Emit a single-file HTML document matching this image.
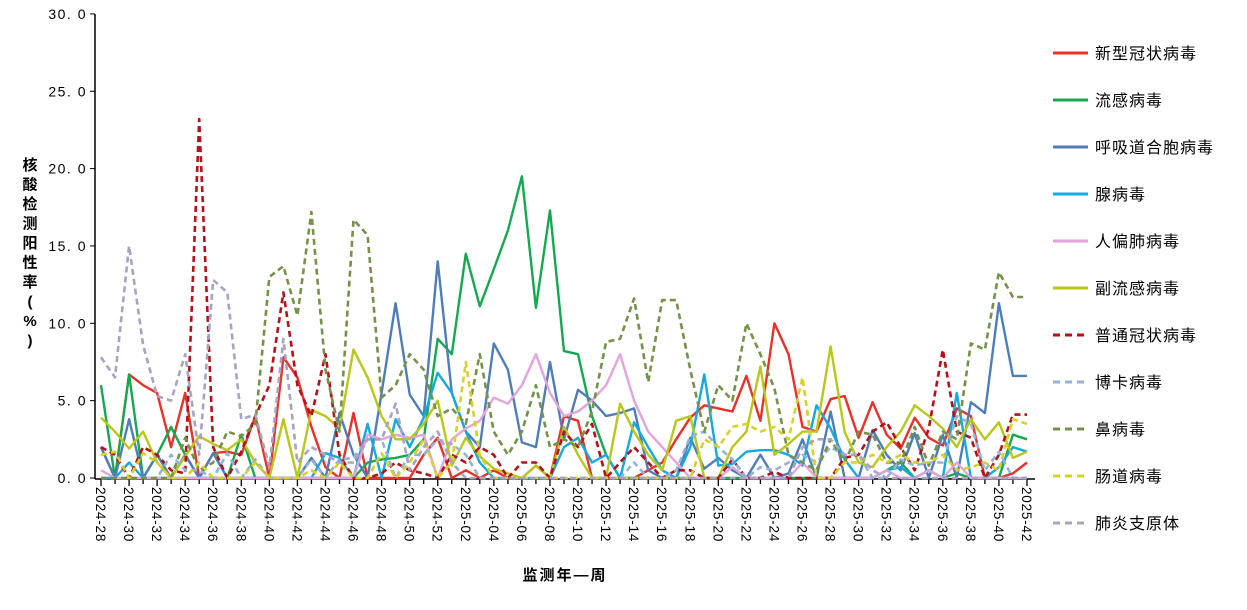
<!DOCTYPE html>
<html><head><meta charset="utf-8"><style>
body{margin:0;background:#fff;}
svg text{font-family:"Liberation Sans","Noto Sans CJK SC",sans-serif;}
</style></head><body>
<svg id="s" width="1247" height="605" xmlns="http://www.w3.org/2000/svg"></svg>
<script>
const s=document.getElementById('s');
let h='';
const X0=101,DX=14.03,Y0=478,K=15.47;
const x=i=>X0+DX*i, y=v=>Y0-v*K;
h+=`<line x1="95" y1="14" x2="95" y2="479" stroke="#000" stroke-width="1.5"/>`;
h+=`<line x1="95" y1="479" x2="1035" y2="479" stroke="#000" stroke-width="1.5"/>`;
for(let k=0;k<=6;k++){const yy=y(k*5);
 h+=`<line x1="90" y1="${yy}" x2="95" y2="${yy}" stroke="#000"/>`;
 h+=`<text x="87" y="${yy+5}" text-anchor="end" font-size="14" letter-spacing="1.5">${(k*5).toFixed(1).replace('.','. ')}</text>`;}
for(let i=0;i<67;i++){h+=`<line x1="${x(i)}" y1="479" x2="${x(i)}" y2="${i%2?484:486}" stroke="#000" stroke-width="1.3"/>`;}
const labs=[];for(let w=28;w<=52;w+=2)labs.push('2024-'+w);for(let w=2;w<=42;w+=2)labs.push('2025-'+String(w).padStart(2,'0'));
labs.forEach((l,j)=>{const xx=x(j*2)-5;h+=`<text transform="translate(${xx},487) rotate(90)" font-size="13.5" letter-spacing="0.8">${l}</text>`;});
h+=`<text x="565" y="580" text-anchor="middle" font-size="15" font-weight="bold" letter-spacing="2">监测年—周</text>`;
const yt="核酸检测阳性率(%)".split('');
yt.forEach((c,j)=>{h+=`<text x="30" y="${170+j*19.5}" text-anchor="middle" font-size="15" font-weight="bold">${c}</text>`;});
function S(a){return a.slice(0,67).map((v,i)=>x(i).toFixed(1)+','+y(v).toFixed(1)).join(' ');}
const series=[
['新型冠状病毒','#e8312a','',[2,0,6.7,6,5.5,2,5.5,0,1.6,1.7,1.5,4,0,7.8,6.5,3.3,0.7,0,4.2,0,0,0,0,1.5,2.6,0,0.5,0,0.5,0,0,0.8,0,4,3.7,0,0,0,0,0.5,1,2.5,3.9,4.7,4.5,4.3,6.6,3.7,10,8,3.3,3,5.1,5.3,2.6,4.9,2.8,1.9,3.9,2.6,2.1,4.5,4,0,0,0.3,1]],
['流感病毒','#16a84f','',[6,0,6.7,0,1.5,3.3,1.5,0,0,0,2.8,0,0,0,0,0,0,0,0,1,1.2,1.3,1.5,2.5,9,8,14.5,11.1,13.5,16,19.5,11,17.3,8.2,8,4,1.5,0,0,0,0,0,0,0,0,0,0,0,0,0,0,0,0,0,0,0,0.5,1,0,0.5,0,0.3,0,0,0,2.8,2.5]],
['呼吸道合胞病毒','#4f7db8','',[2,0,3.8,0,1.5,0,1.5,0,1.6,0,0,0,0,0,0,1.3,0,4.2,1.5,0,5.5,11.3,5.4,4,14,5.5,3,2,8.7,7,2.3,2,7.5,2.5,5.7,5,4,4.2,4.5,0.5,0,0,2.6,0.6,1.3,0.5,0,1.5,0,0.3,2.5,0,4.3,0,0,3.1,1.5,0.5,2.9,0,2.8,0,4.9,4.2,11.3,6.6,6.6]],
['腺病毒','#17a8dd','',[0,0,1,0,0,0,0,0,0,0,0,0,0,0,0,0,1.6,1.3,0,3.5,0,3.8,2,3.9,6.8,5.5,3,1,0,0,0,0,0,2,2.6,1,1.5,0,3.6,2,0.5,0,2,6.7,0.8,0.9,1.7,1.8,1.8,1.5,0.8,4.7,3.2,1.2,0,0,0.5,0.7,0,0.5,0,5.5,0,0,0.7,2,1.7]],
['人偏肺病毒','#e3a3dc','',[0.5,0,0,0,0,0,0,0,0,0,0,0,0,0,0,0,0,0,0,2.8,2.5,2.8,2.6,2.8,0,2.5,3.2,3.7,5.2,4.8,6,8,5.5,4,4.3,5,6,8,5,3,2,1,0,0,0,0.7,0,0,0,0,1,0,0,0,0,0,0.5,0,0,0.5,0,1,0,0,0,0,0]],
['副流感病毒','#b9c71a','',[3.9,3,1.9,3,1,0,1.4,2.7,2.2,1.8,2.5,1,0,3.8,0,4.4,4,3.2,8.3,6.5,4,2.5,2.5,3.5,5,0.8,2.6,1.4,0.6,0.3,0,0.8,0,3.3,1.5,0,0,4.8,3,1.5,0.5,3.7,4,0,0,2,3,7.2,1.5,2.2,3,3,8.5,3,1,0.7,2,3,4.7,4,3.2,2,3.8,2.5,3.6,1.3,1.7]],
['普通冠状病毒','#b3121a','6 4',[2,1.5,0,2,1.5,0.5,0.3,23.2,2,0,1.7,4,6,12,6,4,8,1.5,0,0,0.3,1,0.5,0.3,0,1.5,1,2,1.5,0,1,1,0,3,2,3.5,0,1,2,1,0,0.5,0.5,0,0,1.2,0,0,0.4,0,0,0,0,1.3,1.5,3,3.6,2,0.5,3.2,8.3,3,2.6,0,1.5,4.1,4.1]],
['博卡病毒','#93b3d7','6 4',[0,0,0,0,0,1.5,0.5,0.5,0,1.6,0,1.2,0,0,0,1.2,0,1.2,1.3,2.5,2.5,0,1.5,1.5,2.5,2.2,1.5,0,0,0,0,0,0,0,0,0,0,0,1,0,0,0.5,2.7,3,2,1.2,0,0.7,0.5,1,1.5,1,2,1.5,1.5,0,0,1.2,0.8,1,1,4,3.5,0.5,1.7,0,0]],
['鼻病毒','#76924a','6 4',[0,0,0,0,0,0,2.6,0.5,1,3,2.7,3.5,13,13.7,10.5,17.2,7,3,16.7,15.7,5.2,6,8,7,4,4.5,3.5,8,3,1.5,3,6,2,2.5,2,4.3,8.8,9,11.6,6.2,11.5,11.5,7,3,6,5,10,8,5.8,1.5,1,0.5,2.5,1,3,2.8,1,1,3.3,0.8,3,2.5,8.7,8.3,13.3,11.7,11.7]],
['肠道病毒','#d9d02a','6 4',[1.5,1.7,0,1.6,1,0,0,1,0,0,0,1,0,0,0,0.5,0,1,0,0,1.6,0,1,2.5,0,1,7.5,1.5,0,0,0,0,0,0,0,0,0,0,0,0,0,0,0,2.5,2,3.3,3.5,3,3.3,2.5,6.5,0,0,1,1,1.5,1,1.5,1,1,1.5,0.5,0.7,1,0.5,3.8,3.5]],
['肺炎支原体','#a9a3c2','6 4',[7.8,6.5,15,8.6,5.3,5,8,1.5,12.8,12,3.8,4.1,0.7,9,1,2,1.5,1,1,2.5,2.5,4.8,0.5,2,3,1,0,0,0,0,0,0,0,0,0,0,0,0,0,0,0,0,0,0,0,0,0,0,0,0,2,2.5,2.5,1.5,1.5,0.5,0,0,0,0,0,0,0,0,0,0,0]],
];
series.forEach((d,j)=>{
 h+=`<polyline points="${S(d[3])}" fill="none" stroke="${d[1]}" stroke-width="${d[2]?2.6:2.4}" ${d[2]?`stroke-dasharray="${d[2]}"`:''} stroke-linejoin="round"/>`;
 const ly=53+j*47;
 h+=`<line x1="1053" y1="${ly}" x2="1088" y2="${ly}" stroke="${d[1]}" stroke-width="3" ${d[2]?'stroke-dasharray="7 5"':''}/>`;
 h+=`<text x="1095" y="${ly+6}" font-size="16" letter-spacing="1">${d[0]}</text>`;
});
s.innerHTML=h;
</script>
</body></html>
